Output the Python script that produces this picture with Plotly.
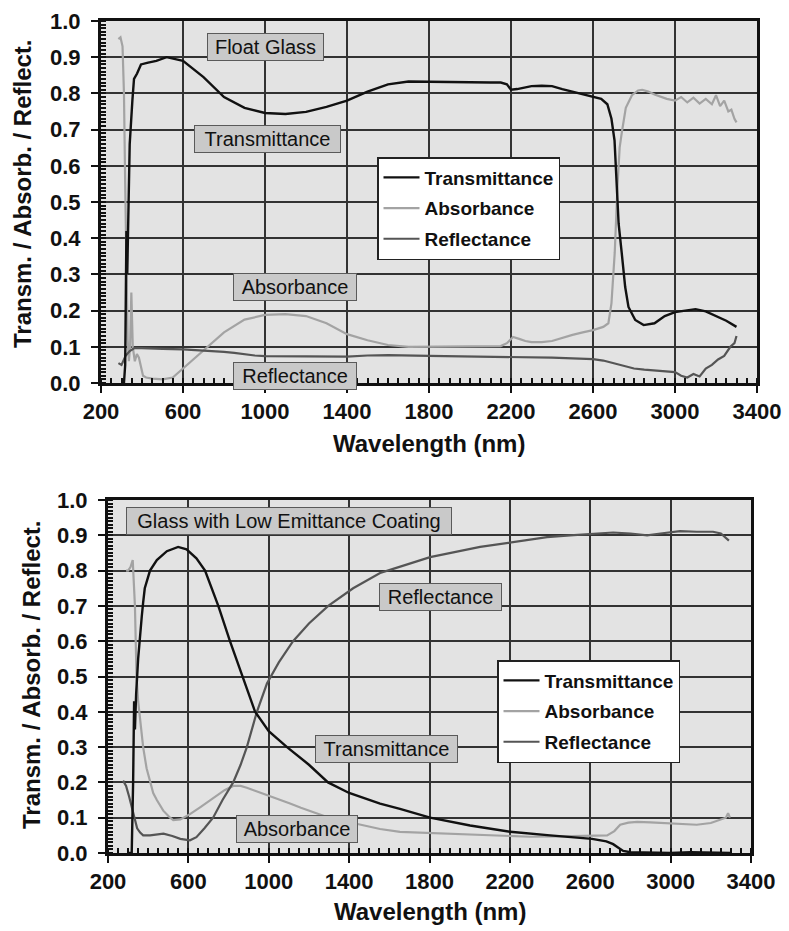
import plotly.graph_objects as go

# ---------------- DATA ----------------
# Top panel: Float Glass
wl_T1 = [300, 312, 318, 324, 328, 333, 340, 353, 361, 376, 395, 430, 470, 520, 600, 700, 800, 900,
         1000, 1100, 1200, 1300, 1400, 1500, 1600, 1700, 1800, 1900, 2000, 2100, 2150, 2180, 2200,
         2230, 2260, 2300, 2350, 2400, 2450, 2500, 2550, 2600, 2640, 2670, 2690, 2705, 2715, 2725,
         2740, 2757, 2773, 2806, 2847, 2900, 2950, 3000, 3050, 3100, 3150, 3200, 3250, 3300]
T1 = [0.0, 0.0, 0.05, 0.42, 0.30, 0.50, 0.66, 0.78, 0.84, 0.855, 0.88, 0.885, 0.89, 0.90, 0.89,
      0.845, 0.79, 0.76, 0.746, 0.743, 0.749, 0.763, 0.78, 0.805, 0.825, 0.833, 0.833, 0.832,
      0.831, 0.83, 0.83, 0.825, 0.81, 0.812, 0.815, 0.82, 0.821, 0.82, 0.812, 0.805, 0.797, 0.79,
      0.785, 0.77, 0.73, 0.67, 0.56, 0.44, 0.36, 0.265, 0.21, 0.174, 0.16, 0.165, 0.185, 0.196,
      0.20, 0.204, 0.198, 0.185, 0.172, 0.155]

wl_A1 = [285, 295, 305, 312, 318, 324, 330, 336, 342, 348, 355, 365, 375, 385, 395, 405, 420, 450,
         500, 550, 600, 650, 700, 800, 900, 1000, 1100, 1200, 1300, 1400, 1500, 1600, 1700, 1800,
         1900, 2000, 2100, 2150, 2180, 2210, 2240, 2270, 2300, 2350, 2400, 2450, 2500, 2550, 2600,
         2650, 2675, 2690, 2706, 2720, 2730, 2740, 2760, 2790, 2820, 2840, 2870, 2900, 2930, 2960,
         3000, 3030, 3060, 3090, 3120, 3150, 3180, 3200, 3220, 3240, 3260, 3275, 3290, 3300]
A1 = [0.95, 0.955, 0.93, 0.80, 0.55, 0.30, 0.12, 0.06, 0.10, 0.25, 0.10, 0.06, 0.08, 0.07, 0.04,
      0.02, 0.015, 0.012, 0.01, 0.015, 0.04, 0.065, 0.09, 0.14, 0.175, 0.188, 0.19, 0.185, 0.165,
      0.135, 0.118, 0.105, 0.10, 0.10, 0.10, 0.10, 0.10, 0.102, 0.11, 0.127, 0.122, 0.116, 0.113,
      0.113, 0.116, 0.125, 0.133, 0.14, 0.146, 0.155, 0.165, 0.22, 0.36, 0.55, 0.65, 0.69, 0.76,
      0.795, 0.808, 0.81, 0.805, 0.797, 0.79, 0.785, 0.78, 0.79, 0.775, 0.788, 0.772, 0.785, 0.77,
      0.795, 0.765, 0.78, 0.75, 0.755, 0.73, 0.72]

wl_R1 = [285, 300, 320, 340, 365, 400, 500, 600, 700, 800, 850, 900, 950, 1000, 1200, 1400, 1500,
         1600, 1800, 2000, 2200, 2400, 2500, 2600, 2650, 2700, 2750, 2800, 2850, 2900, 2950, 3000,
         3030, 3060, 3090, 3120, 3150, 3180, 3210, 3240, 3270, 3290, 3300]
R1 = [0.055, 0.05, 0.075, 0.088, 0.097, 0.096, 0.094, 0.093, 0.09, 0.086, 0.083, 0.079, 0.076,
      0.074, 0.073, 0.073, 0.076, 0.077, 0.075, 0.074, 0.072, 0.07, 0.068, 0.066, 0.062, 0.055,
      0.047, 0.04, 0.037, 0.035, 0.033, 0.03, 0.02, 0.015, 0.025, 0.018, 0.04, 0.05, 0.065, 0.075,
      0.10, 0.11, 0.13]

# Bottom panel: Glass with Low Emittance Coating
wl_T2 = [300, 318, 325, 330, 334, 340, 350, 360, 368, 375, 383, 409, 443, 493, 549, 591, 640, 683,
         749, 807, 871, 932, 1000, 1091, 1200, 1295, 1400, 1554, 1653, 1803, 2002, 2201, 2400, 2500,
         2609, 2680, 2714, 2740, 2764, 2800, 2900, 3000, 3100, 3200, 3300]
T2 = [0.0, 0.0, 0.20, 0.43, 0.35, 0.45, 0.55, 0.63, 0.67, 0.71, 0.75, 0.80, 0.83, 0.855, 0.867,
      0.86, 0.835, 0.80, 0.70, 0.60, 0.50, 0.40, 0.345, 0.30, 0.25, 0.20, 0.17, 0.14, 0.125, 0.10,
      0.078, 0.06, 0.05, 0.045, 0.04, 0.033, 0.025, 0.015, 0.006, 0.002, 0.001, 0.0, 0.002, 0.0, 0.0]

wl_A2 = [290, 300, 312, 323, 334, 342, 350, 360, 375, 392, 409, 425, 443, 475, 509, 525, 560, 608,
         660, 723, 780, 823, 860, 891, 940, 991, 1050, 1106, 1160, 1222, 1300, 1380, 1454, 1554,
         1653, 1803, 2052, 2300, 2450, 2549, 2684, 2720, 2749, 2790, 2833, 2900, 2963, 3050, 3130,
         3200, 3246, 3275, 3286, 3295]
A2 = [0.80, 0.80, 0.81, 0.83, 0.70, 0.50, 0.43, 0.38, 0.30, 0.24, 0.20, 0.17, 0.15, 0.12, 0.10,
      0.093, 0.095, 0.11, 0.13, 0.155, 0.178, 0.19, 0.19, 0.185, 0.175, 0.165, 0.152, 0.14, 0.128,
      0.115, 0.10, 0.09, 0.08, 0.068, 0.06, 0.057, 0.05, 0.046, 0.047, 0.048, 0.05, 0.062, 0.08,
      0.086, 0.088, 0.087, 0.085, 0.083, 0.08, 0.085, 0.093, 0.10, 0.113, 0.10]

wl_R2 = [275, 290, 305, 318, 330, 345, 360, 375, 409, 443, 476, 520, 560, 608, 640, 680, 723, 770,
         823, 860, 891, 941, 991, 1050, 1121, 1200, 1296, 1420, 1554, 1619, 1803, 2052, 2201, 2385,
         2500, 2609, 2714, 2800, 2883, 2950, 3047, 3130, 3211, 3250, 3281, 3290]
R2 = [0.205, 0.19, 0.16, 0.13, 0.10, 0.07, 0.058, 0.05, 0.05, 0.052, 0.055, 0.048, 0.04, 0.036,
      0.045, 0.07, 0.10, 0.15, 0.20, 0.25, 0.30, 0.40, 0.48, 0.54, 0.60, 0.65, 0.70, 0.75, 0.793,
      0.805, 0.838, 0.867, 0.88, 0.895, 0.90, 0.903, 0.908, 0.905, 0.90, 0.905, 0.912, 0.91, 0.91,
      0.905, 0.89, 0.885]

series_names = ["Transmittance", "Absorbance", "Reflectance"]
x_ticks = [200, 600, 1000, 1400, 1800, 2200, 2600, 3000, 3400]
y_ticks = [0.0, 0.1, 0.2, 0.3, 0.4, 0.5, 0.6, 0.7, 0.8, 0.9, 1.0]
panel_titles = ["Float Glass", "Glass with Low Emittance Coating"]

for a, b in [(wl_T1, T1), (wl_A1, A1), (wl_R1, R1), (wl_T2, T2), (wl_A2, A2), (wl_R2, R2)]:
    assert len(a) == len(b), (len(a), len(b))

# ---------------- STYLE ----------------
FONT = "Liberation Sans, Arial, sans-serif"
colors = {"Transmittance": "#111111", "Absorbance": "#a3a3a3", "Reflectance": "#555555"}
W, H = 789, 931

fig = go.Figure()

panels = [
    (("x", "y", "legend"), {"Transmittance": (wl_T1, T1), "Absorbance": (wl_A1, A1),
                            "Reflectance": (wl_R1, R1)}),
    (("x2", "y2", "legend2"), {"Transmittance": (wl_T2, T2), "Absorbance": (wl_A2, A2),
                               "Reflectance": (wl_R2, R2)}),
]
draw_order = ["Absorbance", "Reflectance", "Transmittance"]  # transmittance on top
for (xa, ya, lg), data in panels:
    for name in draw_order:
        xs, ys = data[name]
        fig.add_trace(go.Scatter(
            x=xs, y=ys, mode="lines", name=name, xaxis=xa, yaxis=ya, legend=lg,
            legendgroup=lg + name, legendrank=series_names.index(name) + 1,
            line=dict(color=colors[name], width=2.4 if name == "Transmittance" else 2.2),
        ))


def px_x(p):
    return p / W


def px_y(p):
    return 1 - p / H


def xaxis_style(dom, anchor):
    return dict(
        domain=dom, anchor=anchor, range=[200, 3400], tickvals=x_ticks, automargin=False,
        showgrid=True, gridcolor="#333333", gridwidth=1.7, zeroline=False,
        showline=True, linecolor="#111", linewidth=3, mirror=True,
        ticks="outside", ticklen=7, tickwidth=2, tickcolor="#111",
        ticklabelstandoff=0,
        tickfont=dict(family=FONT, size=22, color="#111", weight="bold"),
        minor=dict(dtick=50, tick0=200, ticks="inside", ticklen=5, tickwidth=1.5,
                   tickcolor="#111", showgrid=False),
    )


def yaxis_style(dom, anchor):
    return dict(
        domain=dom, anchor=anchor, range=[0, 1.0], tickvals=y_ticks, tickformat=".1f",
        automargin=False,
        showgrid=True, gridcolor="#333333", gridwidth=1.7, zeroline=False,
        showline=True, linecolor="#111", linewidth=3, mirror=True,
        ticks="outside", ticklen=7, tickwidth=2, tickcolor="#111",
        ticklabelstandoff=6,
        tickfont=dict(family=FONT, size=22, color="#111", weight="bold"),
        minor=dict(dtick=0.01, tick0=0, ticks="inside", ticklen=5, tickwidth=1.5,
                   tickcolor="#111", showgrid=False),
    )


legend_common = dict(
    xanchor="left", yanchor="top", bgcolor="white", bordercolor="#222", borderwidth=1.5,
    font=dict(family=FONT, size=19, color="#111", weight="bold"),
    tracegroupgap=3, itemwidth=36, traceorder="grouped",
)

fig.update_layout(
    template="none",
    width=W, height=H, autosize=False,
    margin=dict(l=0, r=0, t=0, b=0, pad=0, autoexpand=False),
    paper_bgcolor="white", plot_bgcolor="#e3e3e3",
    xaxis=xaxis_style([px_x(101), px_x(757)], "y"),
    yaxis=yaxis_style([px_y(383), px_y(21)], "x"),
    xaxis2=xaxis_style([px_x(108), px_x(751)], "y2"),
    yaxis2=yaxis_style([px_y(853), px_y(500)], "x2"),
    legend=dict(x=px_x(377), y=px_y(157), **legend_common),
    legend2=dict(x=px_x(497), y=px_y(660), **legend_common),
    showlegend=True,
)

# axis titles
title_font = dict(family=FONT, size=24, color="#111", weight="bold")
for cx, cy in [(px_x(429), px_y(443)), (px_x(430), px_y(911))]:
    fig.add_annotation(text="Wavelength (nm)", xref="paper", yref="paper", x=cx, y=cy,
                       showarrow=False, font=title_font, xanchor="center", yanchor="middle")
for cx, cy in [(px_x(22), px_y(194)), (px_x(31), px_y(675))]:
    fig.add_annotation(text="Transm. / Absorb. / Reflect.", xref="paper", yref="paper",
                       x=cx, y=cy, textangle=-90, showarrow=False, font=title_font,
                       xanchor="center", yanchor="middle")

# labelled boxes inside the panels (anchored in data coordinates)
label_font = dict(family=FONT, size=20, color="#111")
box_labels = [
    ("x", "y", panel_titles[0], 1001, 0.928, 111),
    ("x", "y", "Transmittance", 1013, 0.674, 141),
    ("x", "y", "Absorbance", 1145, 0.264, 118),
    ("x", "y", "Reflectance", 1145, 0.019, 118),
    ("x2", "y2", panel_titles[1], 1101, 0.940, 320),
    ("x2", "y2", "Reflectance", 1853, 0.724, 117),
    ("x2", "y2", "Transmittance", 1586, 0.295, 137),
    ("x2", "y2", "Absorbance", 1141, 0.068, 116),
]
for xr, yr, txt, xv, yv, wbox in box_labels:
    fig.add_annotation(text=txt, xref=xr, yref=yr, x=xv, y=yv, showarrow=False,
                       font=label_font, bgcolor="#c9c9c9", bordercolor="#5a5a5a",
                       borderwidth=1, borderpad=2, width=wbox, height=22,
                       xanchor="center", yanchor="middle")

# remove the browser's default page margin so the figure sits at the window origin
fig.write_html("out.html", config={"displayModeBar": False},
               post_script="document.body.style.margin='0';")
